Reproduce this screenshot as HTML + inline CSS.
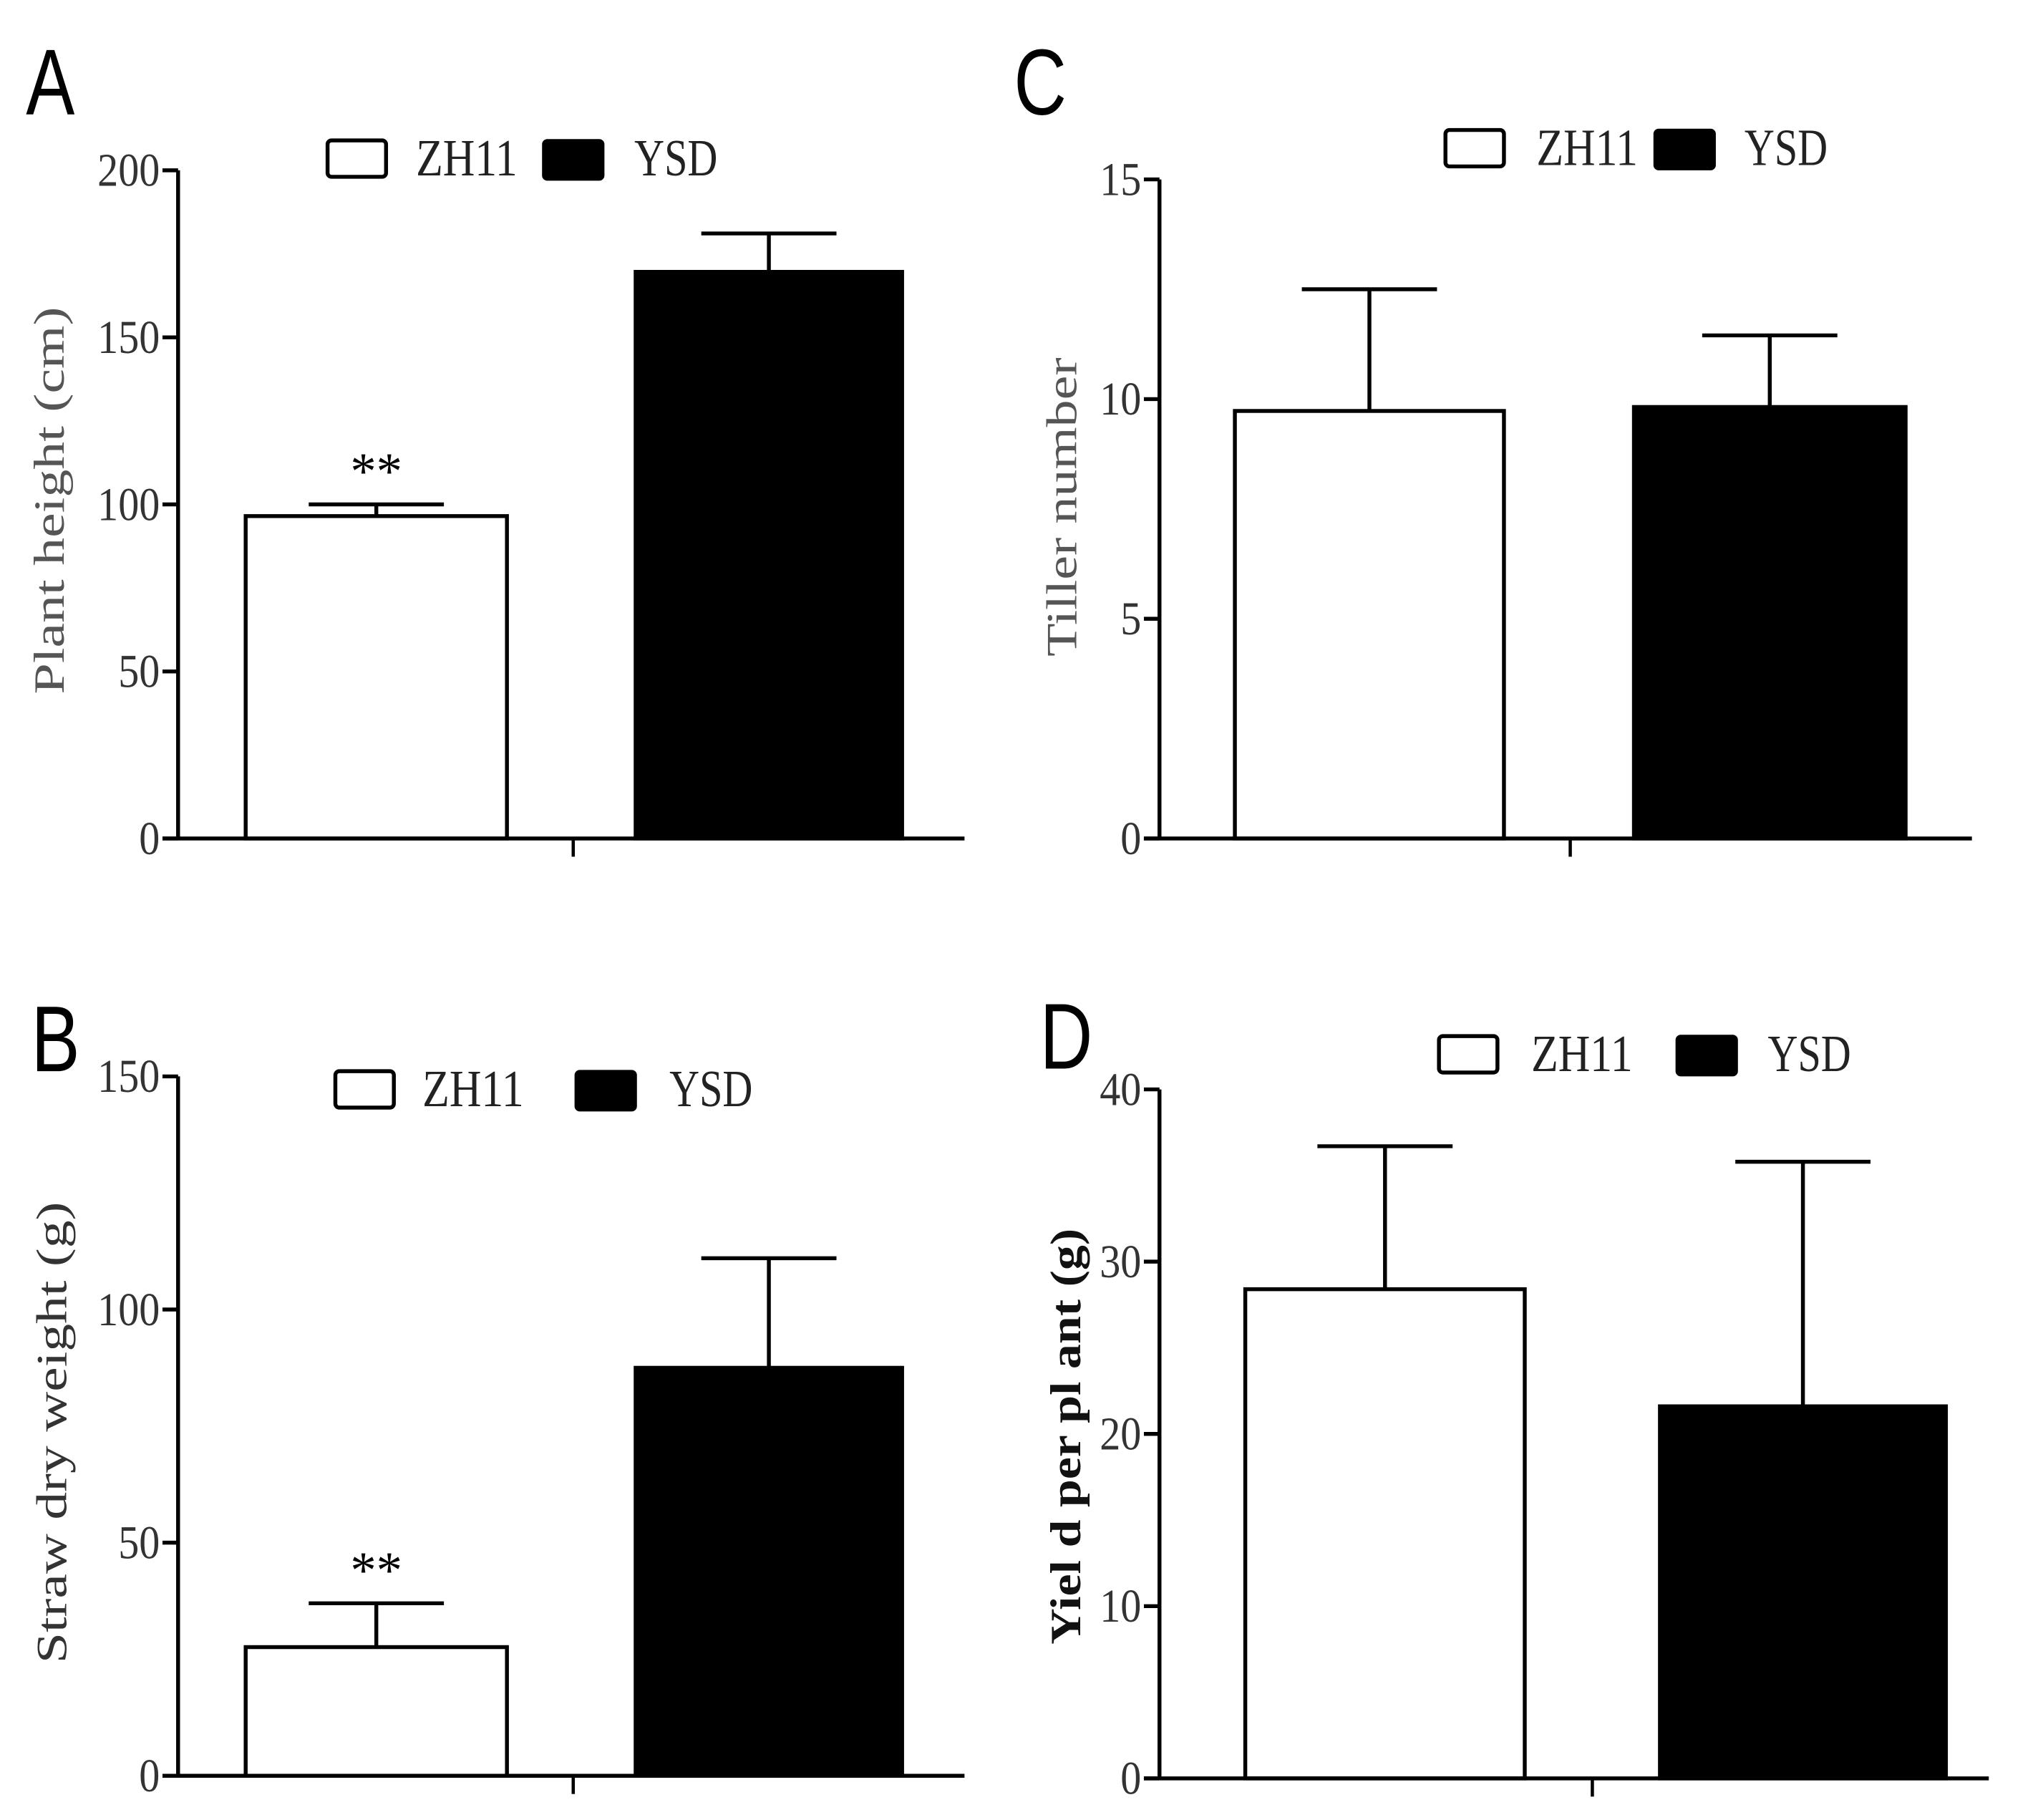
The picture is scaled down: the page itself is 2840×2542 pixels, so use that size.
<!DOCTYPE html>
<html><head><meta charset="utf-8"><style>
html,body{margin:0;padding:0;background:#fff;}
svg{display:block;}
text{font-family:"Liberation Serif",serif;}
text.letter{font-family:"Liberation Sans",sans-serif;}
</style></head><body>
<svg id="fig" width="2840" height="2542" viewBox="0 0 1564 1400" preserveAspectRatio="none" xmlns="http://www.w3.org/2000/svg"></svg>
<script>
// Panel A: plant height
const aCategories = ["ZH11", "YSD"];
const aValues = [96.5, 169.6];
const aErrors = [3.5, 11.5];
const aTicks = [0, 50, 100, 150, 200];
// Panel B: straw dry weight
const bCategories = ["ZH11", "YSD"];
const bValues = [27.6, 87.5];
const bErrors = [9.4, 23.5];
const bTicks = [0, 50, 100, 150];
// Panel C: tiller number
const cCategories = ["ZH11", "YSD"];
const cValues = [9.73, 9.82];
const cErrors = [2.77, 1.63];
const cTicks = [0, 5, 10, 15];
// Panel D: yield per plant
const dCategories = ["ZH11", "YSD"];
const dValues = [28.4, 21.6];
const dErrors = [8.3, 14.2];
const dTicks = [0, 10, 20, 30, 40];

const NS = "http://www.w3.org/2000/svg";
const svg = document.getElementById("fig");
function mk(tag, attrs, parent) {
  const e = document.createElementNS(NS, tag);
  for (const k in attrs) e.setAttribute(k, attrs[k]);
  (parent || svg).appendChild(e);
  return e;
}

const panels = [
  {id:"a", letter:"A", lx:20, ly:88, cats:aCategories, vals:aValues, errs:aErrors, ticks:aTicks,
   ax:137, y0:645, yTop:131, xEnd:742, bars:[[189,390],[489,694]], tickX:441,
   legend:{box1:252, ly:108, t1:320, box2:418, t2:488}, title:"Plant height (cm)", tx:38, ty:385, tlen:298, bold:false, tcol:"#555", stars:true},
  {id:"b", letter:"B", lx:24, ly:824, cats:bCategories, vals:bValues, errs:bErrors, ticks:bTicks,
   ax:137, y0:1366, yTop:828, xEnd:742, bars:[[189,390],[489,694]], tickX:441,
   legend:{box1:258, ly:824, t1:325, box2:443, t2:515}, title:"Straw dry weight (g)", tx:40, ty:1102, tlen:355, bold:false, tcol:"#333", stars:true},
  {id:"c", letter:"C", lx:780, ly:88, cats:cCategories, vals:cValues, errs:cErrors, ticks:cTicks,
   ax:892, y0:645, yTop:138, xEnd:1517, bars:[[950,1157],[1257,1466]], tickX:1208,
   legend:{box1:1112, ly:100, t1:1182, box2:1273, t2:1342}, title:"Tiller number", tx:817, ty:390, tlen:230, bold:false, tcol:"#555", stars:false},
  {id:"d", letter:"D", lx:800, ly:822, cats:dCategories, vals:dValues, errs:dErrors, ticks:dTicks,
   ax:892, y0:1368, yTop:838, xEnd:1530, bars:[[958,1173],[1277,1497]], tickX:1225,
   legend:{box1:1107, ly:797, t1:1178, box2:1290, t2:1360}, title:"Yiel d per pl ant (g)", tx:820, ty:1105, tlen:320, bold:true, tcol:"#111", stars:false}
];

panels.forEach(p => {
  const g = mk("g", {});
  
  
  const maxT = p.ticks[p.ticks.length - 1];
  const y = v => p.y0 - (v / maxT) * (p.y0 - p.yTop);

  const lt = mk("text", {class:"letter", x:p.lx, y:p.ly, "font-size":72, transform:`translate(${p.lx},0) scale(0.78,1) translate(${-p.lx},0)`}, g);
  lt.textContent = p.letter;
  
  

  p.vals.forEach((v, i) => {
    const [x1, x2] = p.bars[i];
    const top = y(v), et = y(v + p.errs[i]);
    const cx = (x1 + x2) / 2;
    const el = mk("line", {x1:cx, x2:cx, y1:top, y2:et, stroke:"#000", "stroke-width":3}, g);
    
    
    const cap = mk("line", {x1:cx - 52, x2:cx + 52, y1:et, y2:et, stroke:"#000", "stroke-width":3}, g);
    
    
    const r = mk("rect", {x:x1, y:top, width:x2 - x1, height:p.y0 - top, fill:i === 0 ? "#fff" : "#000", stroke:"#000", "stroke-width":3}, g);
    
    
    if (i === 0 && p.stars) {
      const s = mk("text", {x:cx, y:et - 12, "font-size":40, "text-anchor":"middle"}, g);
      s.textContent = "**";
      
      
    }
  });

  const ya = mk("line", {x1:p.ax, x2:p.ax, y1:p.yTop, y2:p.y0, stroke:"#000", "stroke-width":3}, g);
  
  
  const xa = mk("line", {x1:p.ax - 12, x2:p.xEnd, y1:p.y0, y2:p.y0, stroke:"#000", "stroke-width":3}, g);
  
  
  const xt = mk("line", {x1:p.tickX, x2:p.tickX, y1:p.y0, y2:p.y0 + 14, stroke:"#000", "stroke-width":2.5}, g);
  
  

  p.ticks.forEach(t => {
    const ty = y(t);
    const tk = mk("line", {x1:p.ax - 12, x2:p.ax, y1:ty, y2:ty, stroke:"#000", "stroke-width":3}, g);
    
    
    const lb = mk("text", {x:p.ax - 14, y:ty + 12, "font-size":36, "text-anchor":"end", fill:"#333", textLength:String(t).length * 16, lengthAdjust:"spacingAndGlyphs"}, g);
    lb.textContent = t;
    
    
  });

  const L = p.legend;
  const b1 = mk("rect", {x:L.box1, y:L.ly, width:45, height:28, rx:3, fill:"#fff", stroke:"#000", "stroke-width":3}, g);
  
  
  const t1 = mk("text", {x:L.t1, y:L.ly + 27, "font-size":40, fill:"#222", textLength:78, lengthAdjust:"spacingAndGlyphs"}, g);
  t1.textContent = "ZH11";
  
  
  const b2 = mk("rect", {x:L.box2, y:L.ly, width:46, height:30, rx:3, fill:"#000", stroke:"#000", "stroke-width":2}, g);
  
  
  const t2 = mk("text", {x:L.t2, y:L.ly + 27, "font-size":40, fill:"#222", textLength:64, lengthAdjust:"spacingAndGlyphs"}, g);
  t2.textContent = "YSD";
  
  

  const yt = mk("text", {x:p.tx, y:p.ty, "font-size":33, "text-anchor":"middle", fill:p.tcol, "font-weight":p.bold ? "bold" : "normal", transform:`rotate(-90 ${p.tx} ${p.ty})`, dy:"11", textLength:p.tlen, lengthAdjust:"spacingAndGlyphs"}, g);
  yt.textContent = p.title;
  
  
});
</script>
</body></html>
